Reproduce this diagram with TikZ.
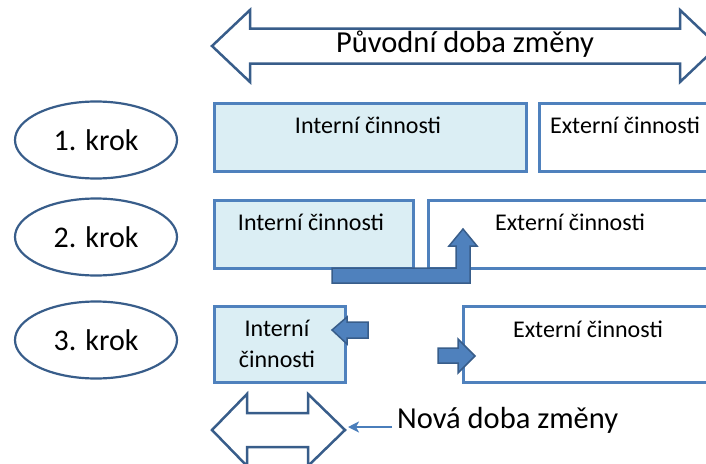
\documentclass[tikz,border=0pt]{standalone}
\usepackage{fontspec}
\setmainfont{Carlito}
\usepackage{tikz}
\usetikzlibrary{shapes.geometric,positioning,arrows.meta}
\definecolor{boxblue}{RGB}{79,129,189}
\definecolor{darkblue}{RGB}{56,93,138}
\definecolor{paleblue}{RGB}{219,238,244}
\definecolor{pointblue}{RGB}{74,126,187}
\tikzset{krok style/.style={
		draw=darkblue,
		line width=2.2pt,
		fill=white,
		ellipse,
		minimum width=162pt,
		minimum height=77pt,
		font=\fontsize{30}{36}\selectfont,
		inner sep=0pt,
	},
	intern style/.style={
		draw=boxblue,
		line width=2.5pt,
		fill=paleblue,
		rectangle,
		anchor=north west,
		inner sep=0pt,
	},
	extern style/.style={
		draw=boxblue,
		line width=2.5pt,
		fill=white,
		rectangle,
		anchor=north west,
		inner sep=0pt,
	},
	text style/.style={
		font=\fontsize{24}{31}\selectfont,
		align=center,
		inner sep=0pt,
	},
	span style/.style={
		draw=darkblue,
		line width=2.5pt,
		fill=white,
		line join=miter,
	},
	block style/.style={
		draw=darkblue,
		line width=1.5pt,
		fill=boxblue,
		line join=miter,
	},
	big text/.style={
		font=\fontsize{30.5}{36}\selectfont,
		inner sep=0pt,
	}
}

\begin{document}
\begin{tikzpicture}[x=1pt,y=-1pt]
	\useasboundingbox (0,0) rectangle (706,463);
	\clip (0,0) rectangle (706,463);
	
	% puvodni doba
	\draw[span style] (212,46) -- (250,10) -- (250,28.5) -- (680,28.5) -- (680,10) -- (718,46)
	-- (680,82) -- (680,63.5) -- (250,63.5) -- (250,82) -- cycle;
	\node[big text] (Puvodni) at (465,44) {Původní doba změny};
	
	\node[krok style] (Krok1) at (96,140) {1. krok};
	\node[krok style] (Krok2) at (96,237) {2. krok};
	\node[krok style] (Krok3) at (96,340) {3. krok};
	
	% 1. krok
	\node[intern style, minimum width=312pt, minimum height=68pt] (Intern1) at (213,102) {};
	\node[extern style, minimum width=220pt, minimum height=68pt] (Extern1) at (538,102) {};
	\node[text style] (InternText1) at (368,125) {Interní činnosti};
	\node[text style] (ExternText1) at (625,125) {Externí činnosti};
	
	% 2. krok
	\node[intern style, minimum width=199pt, minimum height=68pt] (Intern2) at (213,199) {};
	\node[extern style, minimum width=330pt, minimum height=68pt] (Extern2) at (427,199) {};
	\node[text style] (InternText2) at (311,222) {Interní činnosti};
	\node[text style] (ExternText2) at (570,222) {Externí činnosti};
	\draw[block style] (332,268) -- (456,268) -- (456,246) -- (449,246) -- (463,229) -- (477,246)
	-- (470,246) -- (470,283) -- (332,283) -- cycle;
	
	% 3. krok
	\node[intern style, minimum width=131pt, minimum height=76pt] (Intern3) at (213,305) {};
	\node[extern style, minimum width=300pt, minimum height=76pt] (Extern3) at (462,305) {};
	\node[text style] (InternText3) at (277,344) {Interní\\činnosti};
	\node[text style] (ExternText3) at (588,329) {Externí činnosti};
	\draw[block style] (368,322) -- (347,322) -- (347,317) -- (332,330) -- (347,344) -- (347,338)
	-- (368,338) -- cycle;
	\draw[block style] (438,348) -- (458,348) -- (458,339) -- (475,356) -- (458,373) -- (458,363)
	-- (438,363) -- cycle;
	
	% nova doba
	\draw[span style] (212,430) -- (247,394) -- (247,413) -- (308,413) -- (308,394) -- (345,430)
	-- (308,466) -- (308,447) -- (247,447) -- (247,466) -- cycle;
	\coordinate (NovaTip) at (348,427);
	\node[big text, anchor=west] (Nova) at (397,420) {Nová doba změny};
	\draw[pointblue, line width=2pt, -{Stealth[length=11pt,width=11pt,inset=3pt]}] ([xshift=-5pt]Nova.west |- NovaTip) -- (NovaTip);
\end{tikzpicture}
\end{document}
